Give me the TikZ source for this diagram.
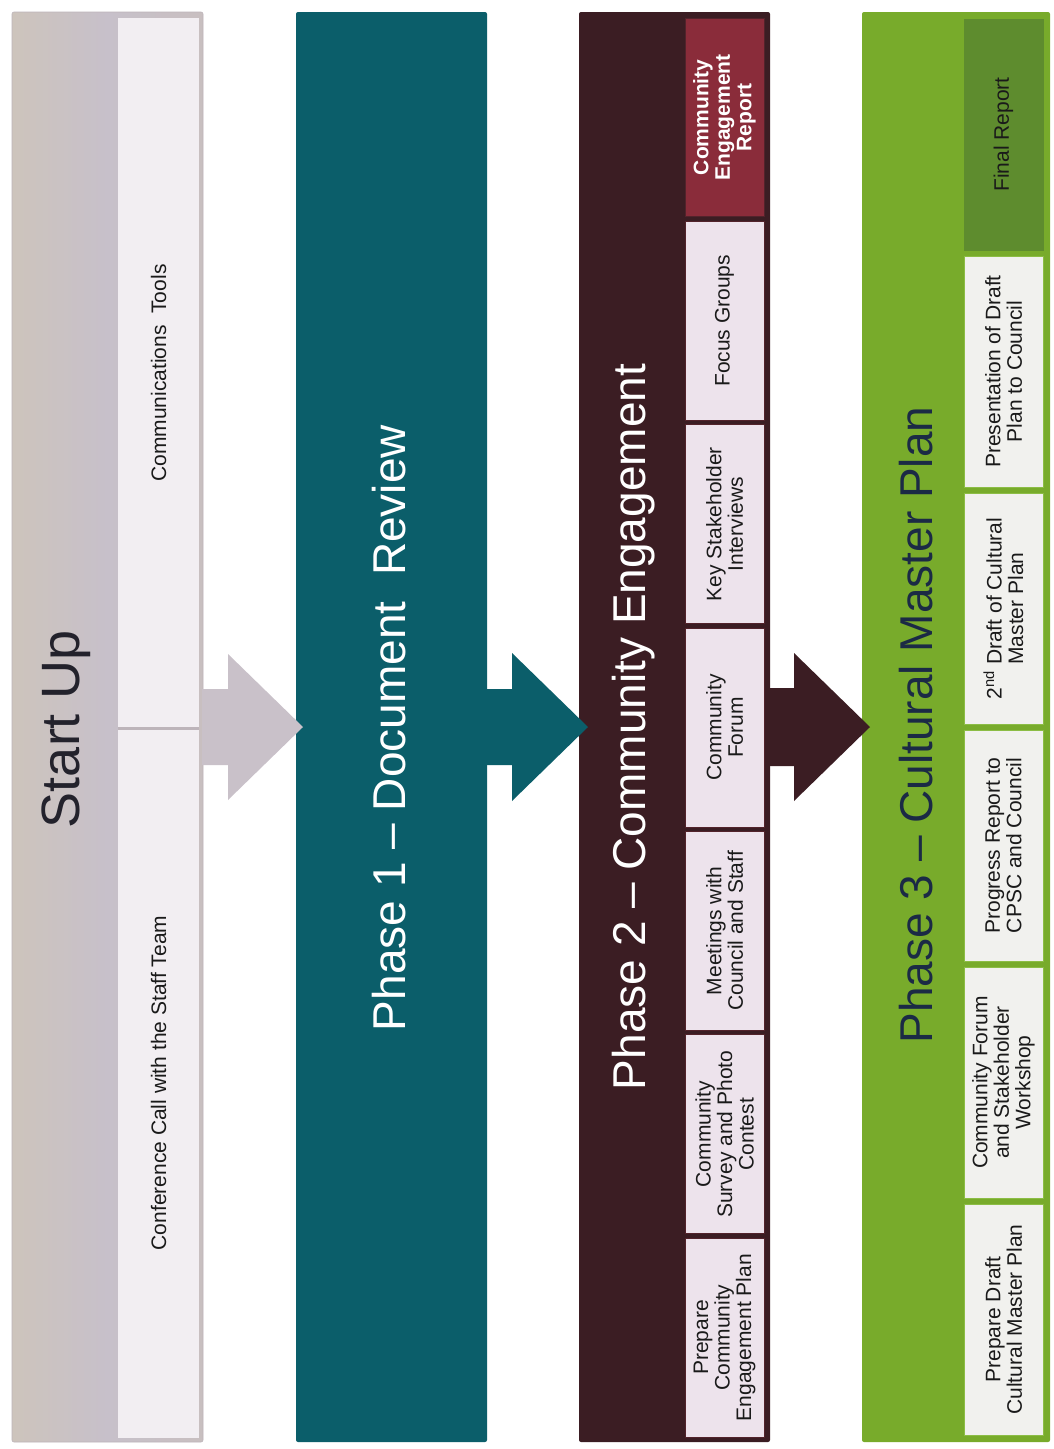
\documentclass[tikz,border=0pt]{standalone}
\usepackage{fontspec}
\setmainfont{Liberation Sans}
\usetikzlibrary{calc}
\definecolor{suA}{HTML}{CDC4BC}
\definecolor{suB}{HTML}{C7C0CA}
\definecolor{suC}{HTML}{C8BFC0}
\definecolor{suband}{HTML}{F2EEF2}
\definecolor{susep}{HTML}{BDB4BA}
\definecolor{suarrow}{HTML}{C9C1C9}
\definecolor{sutext}{HTML}{23222C}
\definecolor{teal1}{HTML}{0B5E6A}
\definecolor{maroon1}{HTML}{3B1D23}
\definecolor{maroonedge}{HTML}{52232B}
\definecolor{redbox}{HTML}{8A2C3A}
\definecolor{pinkbox}{HTML}{EDE3EC}
\definecolor{green1}{HTML}{78AB2B}
\definecolor{green2}{HTML}{5E8C2E}
\definecolor{greenedge}{HTML}{8CBD45}
\definecolor{whitebox}{HTML}{F1F1EE}
\definecolor{navy1}{HTML}{1B2A45}
\definecolor{boxtext}{HTML}{1A1A1A}
\begin{document}
\begin{tikzpicture}[x=1pt,y=-1pt,
  column/.style={inner sep=0pt,outer sep=0pt,minimum width=191pt,minimum height=1430pt,rounded corners=2pt},
  title/.style={rotate=90,inner sep=0pt,font=\fontsize{46}{50}\selectfont},
  subtxt/.style={rotate=90,inner sep=0pt,outer sep=0pt,align=center,text=boxtext,font=\fontsize{21}{21.5}\selectfont},
  pbox/.style={subtxt,fill=pinkbox,draw=maroonedge,line width=0.8pt,minimum width=198.9pt,minimum height=79pt},
  gbox/.style={subtxt,fill=whitebox,draw=greenedge,line width=0.8pt,minimum width=231pt,minimum height=79pt},
  ubox/.style={subtxt,fill=suband,minimum width=710pt,minimum height=81pt}
]
\fill[white] (0,0) rectangle (1053,1449);
\useasboundingbox (0,0) rectangle (1053,1449);

% columns
\node[column,left color=suA,right color=suC,middle color=suB,draw=susep,line width=0.6pt] (c1) at (107.5,727) {};
\node[column,fill=teal1] (c2) at (391.5,727) {};
\node[column,fill=maroon1] (c3) at (674.5,727) {};
\node[column,fill=green1,minimum width=188pt] (c4) at (956,727) {};

% Start Up sub-boxes
\node[ubox] (s1) at (158.5,373) {Communications\ \ Tools};
\node[ubox] (s2) at (158.5,1083) {Conference Call with the Staff Team};
\draw[susep,line width=3pt] (s1.north west) -- (s1.south west);

% Phase 2 sub-boxes
\node[pbox,fill=redbox,text=white,font=\fontsize{21}{21.5}\selectfont\bfseries] (p7) at (724.5,117.4) {Community\\Engagement\\Report};
\node[pbox] (p6) at (724.5,320.8) {Focus Groups};
\node[pbox] (p5) at (724.5,524.2) {Key Stakeholder\\Interviews};
\node[pbox] (p4) at (724.5,727.5) {Community\\Forum};
\node[pbox] (p3) at (724.5,930.9) {Meetings with\\Council and Staff};
\node[pbox] (p2) at (724.5,1134.2) {Community\\Survey and Photo\\Contest};
\node[pbox] (p1) at (724.5,1337.6) {Prepare\\Community\\Engagement Plan};

% Phase 3 sub-boxes
\node[gbox,fill=green2,draw=green2] (g6) at (1003.5,134.5) {Final Report};
\node[gbox] (g5) at (1003.5,371.5) {Presentation of Draft\\Plan to Council};
\node[gbox] (g4) at (1003.5,608.5) {2\textsuperscript{nd} Draft of Cultural\\Master Plan};
\node[gbox] (g3) at (1003.5,845.5) {Progress Report to\\CPSC and Council};
\node[gbox] (g2) at (1003.5,1082.5) {Community Forum\\and Stakeholder\\Workshop};
\node[gbox] (g1) at (1003.5,1319.5) {Prepare Draft\\Cultural Master Plan};

% titles
\node[title,text=sutext,font=\fontsize{54}{58}\selectfont] (t0) at (66,729) {Start Up};
\node[title,text=white] (t1) at (389,728) {Phase 1 -- Document\ \ Review};
\node[title,text=white] (t2) at (634,727) {Phase 2 -- Community Engagement};
\node[title,text=navy1] (t3) at (916,725) {Phase 3 -- Cultural Master Plan};

% arrows
\fill[suarrow] ($(c1.east)+(-1,-38)$) -- ($(c1.east)+(25,-38)$) -- ($(c1.east)+(25,-73)$)
  -- ($(c2.west)+(7,0)$) -- ($(c1.east)+(25,73)$) -- ($(c1.east)+(25,38)$) -- ($(c1.east)+(-1,38)$) -- cycle;
\fill[teal1] ($(c2.east)+(-1,-38)$) -- ($(c2.east)+(25,-38)$) -- ($(c2.east)+(25,-74)$)
  -- ($(c3.west)+(9,0)$) -- ($(c2.east)+(25,74)$) -- ($(c2.east)+(25,38)$) -- ($(c2.east)+(-1,38)$) -- cycle;
\fill[maroon1] ($(c3.east)+(-1,-39)$) -- ($(c3.east)+(24,-39)$) -- ($(c3.east)+(24,-74)$)
  -- ($(c4.west)+(8,0)$) -- ($(c3.east)+(24,74)$) -- ($(c3.east)+(24,39)$) -- ($(c3.east)+(-1,39)$) -- cycle;
\end{tikzpicture}
\end{document}
